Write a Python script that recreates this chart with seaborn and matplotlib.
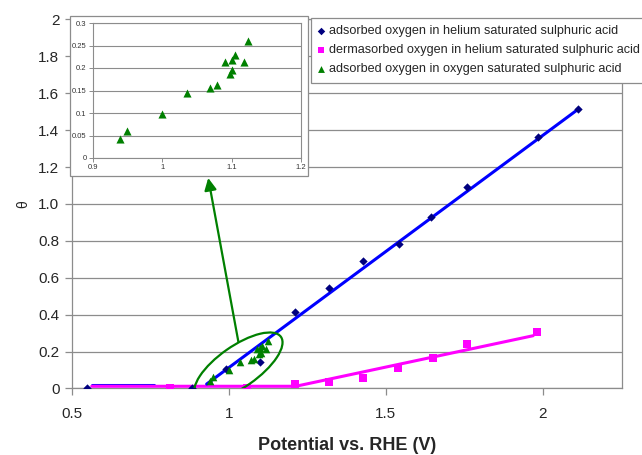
import numpy as np
import pandas as pd
import seaborn as sns
import matplotlib
matplotlib.use("Agg")
import matplotlib.pyplot as plt
from matplotlib.patches import Ellipse, Rectangle
from matplotlib.transforms import ScaledTranslation

# ---------------- data ----------------
ads_he_x = [0.549, 0.881, 0.991, 1.099, 1.210, 1.319, 1.428, 1.542, 1.643, 1.757, 1.983, 2.112]
ads_he_y = [0.000, 0.000, 0.108, 0.145, 0.416, 0.545, 0.693, 0.781, 0.930, 1.090, 1.365, 1.513]

derm_he_x = [0.813, 1.056, 1.209, 1.319, 1.428, 1.540, 1.651, 1.757, 1.982]
derm_he_y = [0.000, 0.000, 0.024, 0.037, 0.059, 0.113, 0.164, 0.241, 0.308]

ads_o2_x = [0.939, 0.949, 1.000, 1.035, 1.069, 1.079, 1.091, 1.097, 1.100, 1.101, 1.105, 1.118, 1.123]
ads_o2_y = [0.042, 0.060, 0.098, 0.145, 0.155, 0.162, 0.214, 0.186, 0.217, 0.195, 0.228, 0.214, 0.260]

blue_fit_x = [0.929, 2.112]
blue_fit_y = [0.024, 1.513]
blue_flat_x = [0.563, 0.760]
blue_flat_y = [0.020, 0.020]
pink_fit_x = [0.563, 1.213, 1.969]
pink_fit_y = [0.012, 0.012, 0.286]

labels = ["adsorbed oxygen in helium saturated sulphuric acid",
          "dermasorbed oxygen in helium saturated sulphuric acid",
          "adsorbed oxygen in oxygen saturated sulphuric acid"]

main_xticks = [0.5, 1.0, 1.5, 2.0]
main_xticklabels = ["0.5", "1", "1.5", "2"]
main_yticks = [0, 0.2, 0.4, 0.6, 0.8, 1.0, 1.2, 1.4, 1.6, 1.8, 2.0]
main_yticklabels = ["0", "0.2", "0.4", "0.6", "0.8", "1.0", "1.2", "1.4", "1.6", "1.8", "2"]
inset_xticks = [0.9, 1.0, 1.1, 1.2]
inset_xticklabels = ["0.9", "1", "1.1", "1.2"]
inset_yticks = [0, 0.05, 0.1, 0.15, 0.2, 0.25, 0.3]
inset_yticklabels = ["0", "0.05", "0.1", "0.15", "0.2", "0.25", "0.3"]

ellipse_center = (1.030, 0.118)
arrow_from = (1.030, 0.254)
arrow_to = (0.934, 1.141)

# ---------------- style ----------------
sns.set_theme(style="white")
plt.rcParams['font.family'] = ['Liberation Sans', 'DejaVu Sans']

NAVY = "#00007f"
BLUE = "#0000ff"
MAG = "#ff00ff"
GREEN = "#008000"
GRID = "#8c8c8c"

fig = plt.figure(figsize=(6.42, 4.55), dpi=100)
ax = fig.add_axes([0.1121, 0.1462, 0.8567, 0.8110])

# fitted lines
sns.lineplot(x=blue_flat_x, y=blue_flat_y, ax=ax, color=BLUE, lw=2.2, sort=False, estimator=None, zorder=3)
sns.lineplot(x=pink_fit_x, y=pink_fit_y, ax=ax, color=MAG, lw=2.2, sort=False, estimator=None, zorder=3)
sns.lineplot(x=blue_fit_x, y=blue_fit_y, ax=ax, color=BLUE, lw=2.2, sort=False, estimator=None, zorder=4)

# scatter points
sns.scatterplot(x=ads_he_x, y=ads_he_y, ax=ax, marker="D", color=NAVY, s=18, linewidth=0, label=labels[0], zorder=5)
sns.scatterplot(x=derm_he_x, y=derm_he_y, ax=ax, marker="s", color=MAG, s=30, linewidth=0, label=labels[1], zorder=5)
sns.scatterplot(x=ads_o2_x, y=ads_o2_y, ax=ax, marker="^", color=GREEN, s=30, linewidth=0, label=labels[2], zorder=5)

ax.set_xlim(0.5, 2.252)
ax.set_ylim(0, 2.0)
ax.set_xticks(main_xticks)
ax.set_xticklabels(main_xticklabels, fontsize=11)
ax.set_yticks(main_yticks)
ax.set_yticklabels(main_yticklabels, fontsize=11)
ax.tick_params(axis='both', which='both', direction='out', length=5, width=0.9,
               color=GRID, bottom=True, left=True)
ax.tick_params(axis='x', pad=8)
ax.tick_params(axis='y', pad=4)
ax.yaxis.grid(True, color=GRID, lw=0.9)
ax.xaxis.grid(False)
ax.set_axisbelow(True)
for sp in ax.spines.values():
    sp.set_color(GRID)
    sp.set_linewidth(0.9)
ax.set_xlabel("Potential vs. RHE (V)", fontsize=13, fontweight='bold', labelpad=12)
ax.set_ylabel("θ", fontsize=10, labelpad=6)

# ellipse and arrow
trans = fig.dpi_scale_trans + ScaledTranslation(ellipse_center[0], ellipse_center[1], ax.transData)
ax.add_patch(Ellipse((0, 0), 1.04, 0.41, angle=35, transform=trans, fill=False,
                     edgecolor=GREEN, lw=1.6, zorder=6))
ax.annotate("", xy=arrow_to, xytext=arrow_from,
            arrowprops=dict(arrowstyle="-|>,head_length=0.6,head_width=0.3",
                            color=GREEN, lw=1.6, shrinkA=0, shrinkB=0), zorder=6)

# legend (figure level, runs off the right edge like the original)
h, l = ax.get_legend_handles_labels()
ax.get_legend().remove()
leg = fig.legend(h, l, loc='upper left', bbox_to_anchor=(0.484, 0.961), fontsize=9.1,
                 frameon=True, fancybox=False, edgecolor=GRID, framealpha=1,
                 handlelength=0.5, handletextpad=0.35, labelspacing=0.55, borderpad=0.6,
                 borderaxespad=0, markerscale=0.9)
leg.get_frame().set_linewidth(0.9)

# inset background box
fig.add_artist(Rectangle((70/642, 1-176/455), 238/642, 160/455, transform=fig.transFigure,
                         facecolor='white', edgecolor=GRID, lw=0.9, zorder=2))

axin = fig.add_axes([93/642, 1-158/455, (301-93)/642, (158-23)/455])
axin.set_zorder(3)
sns.scatterplot(x=ads_o2_x, y=ads_o2_y, ax=axin, marker="^", color=GREEN, s=34, linewidth=0, zorder=5)
axin.set_xlim(0.9, 1.2)
axin.set_ylim(0, 0.3)
axin.set_xticks(inset_xticks)
axin.set_xticklabels(inset_xticklabels, fontsize=5.5, color="#333333")
axin.set_yticks(inset_yticks)
axin.set_yticklabels(inset_yticklabels, fontsize=5.5, color="#333333")
axin.tick_params(axis='both', direction='out', length=3, width=0.7, color=GRID,
                 bottom=True, left=True, pad=1.5)
axin.yaxis.grid(True, color=GRID, lw=0.8)
axin.xaxis.grid(False)
axin.set_axisbelow(True)
for sp in axin.spines.values():
    sp.set_color(GRID)
    sp.set_linewidth(0.8)
axin.set_xlabel("")
axin.set_ylabel("")

fig.savefig("out.png", dpi=100)
